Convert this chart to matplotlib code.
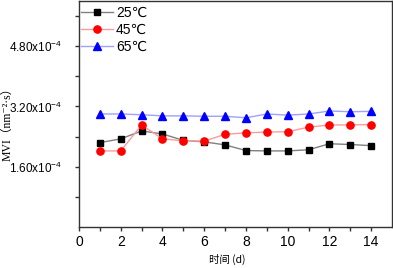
import numpy as np
import matplotlib.pyplot as plt
from matplotlib.ticker import FixedLocator, FuncFormatter

days = [1, 2, 3, 4, 5, 6, 7, 8, 9, 10, 11, 12, 13, 14]
mvi_25 = [2.24, 2.34, 2.55, 2.47, 2.30, 2.26, 2.18, 2.03, 2.02, 2.02, 2.05, 2.21, 2.19, 2.16]
mvi_45 = [2.02, 2.02, 2.71, 2.34, 2.29, 2.28, 2.46, 2.50, 2.52, 2.53, 2.65, 2.71, 2.71, 2.72]
mvi_65 = [3.00, 3.00, 2.98, 2.95, 2.95, 2.94, 2.94, 2.90, 3.00, 2.97, 3.00, 3.08, 3.06, 3.07]
labels = ['25℃', '45℃', '65℃']

plt.rcParams['font.family'] = ['Liberation Sans', 'DejaVu Sans']
plt.rcParams['mathtext.fontset'] = 'custom'
plt.rcParams['mathtext.rm'] = 'Liberation Sans'
plt.rcParams['mathtext.it'] = 'Liberation Sans:italic'
plt.rcParams['mathtext.bf'] = 'Liberation Sans:bold'

fig = plt.figure(figsize=(3.93, 2.68), dpi=100)
ax = fig.add_axes([79 / 393, 41 / 268, 313 / 393, 226 / 268])

x = np.array(days)
ax.plot(x, np.array(mvi_25) * 1e-4, color='#808080', lw=1, marker='s', ms=4.3,
        mfc='black', mec='black', label=labels[0])
ax.plot(x, np.array(mvi_45) * 1e-4, color='#ff9a9a', lw=1, marker='o', ms=5.2,
        mfc='red', mec='red', label=labels[1])
ax.plot(x, np.array(mvi_65) * 1e-4, color='#a0a0ff', lw=1, marker='^', ms=5.2,
        mfc='blue', mec='blue', label=labels[2])

ax.set_xlim(0, 15)
ax.set_ylim(0, 6e-4)
ax.xaxis.set_major_locator(FixedLocator([0, 2, 4, 6, 8, 10, 12, 14]))
ax.xaxis.set_minor_locator(FixedLocator([1, 3, 5, 7, 9, 11, 13]))
ax.yaxis.set_major_locator(FixedLocator([1.6e-4, 3.2e-4, 4.8e-4]))
ax.yaxis.set_minor_locator(FixedLocator([0.8e-4, 2.4e-4, 4.0e-4, 5.6e-4]))
ax.yaxis.set_major_formatter(FuncFormatter(lambda v, p: f'{v * 1e4:.2f}x10$^{{-4}}$'))

ax.tick_params(which='both', direction='out', length=3, width=1, color='#333333',
               top=False, right=False)
ax.tick_params(axis='x', labelsize=10, pad=3)
ax.tick_params(axis='y', labelsize=8.5, pad=9)
for s in ax.spines.values():
    s.set_color('#333333')
    s.set_linewidth(1)

# axis titles
fig.text(227 / 393, 1 - 259.5 / 268, '时间 (d)', family=['Noto Sans CJK SC', 'DejaVu Sans'],
         fontsize=7.5, ha='center', va='center')
fig.text(7.5 / 393, 1 - 121.5 / 268, 'MVI（nm⁻²·s）',
         family=['Liberation Serif', 'Noto Sans CJK SC', 'DejaVu Serif'],
         fontsize=8.5, rotation=90, ha='center', va='center')

ax.legend(loc='upper left', frameon=False, fontsize=10, handlelength=2.3,
          handletextpad=0.2, labelspacing=0.2, borderpad=0.1, borderaxespad=0.05,
          bbox_to_anchor=(0.0, 0.987))

fig.savefig('out.png', dpi=100)
